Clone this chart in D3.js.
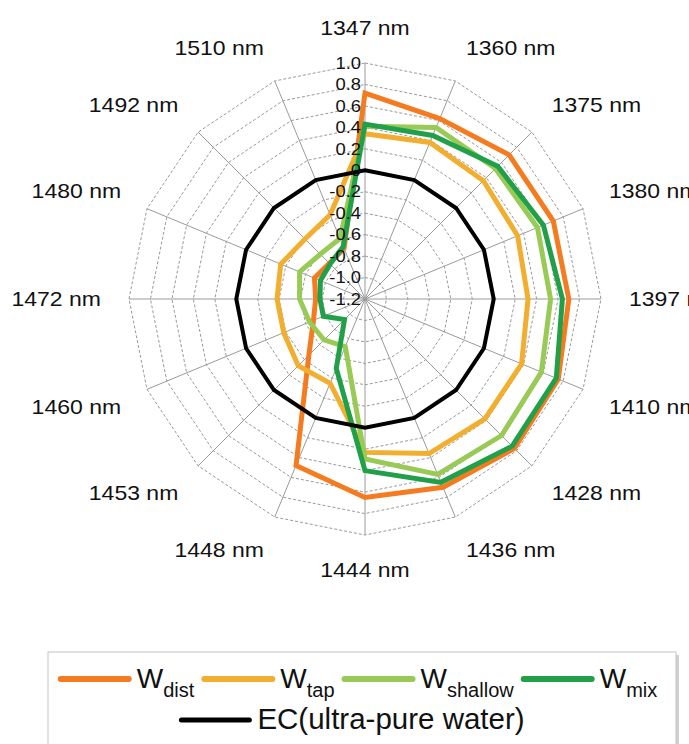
<!DOCTYPE html>
<html>
<head>
<meta charset="utf-8">
<script src="https://cdn.jsdelivr.net/npm/d3@7/dist/d3.min.js"></script>
<style>
  html, body { margin: 0; padding: 0; background: #fff; }
  svg { display: block; }
  text { font-family: "Liberation Sans", Arial, sans-serif; fill: #111; }
</style>
</head>
<body>
<svg id="chart" width="689" height="744"></svg>
<script>
// Axis categories (wavelengths), clockwise from the top
const wavelengths = ["1347 nm", "1360 nm", "1375 nm", "1380 nm", "1397 nm", "1410 nm",
  "1428 nm", "1436 nm", "1444 nm", "1448 nm", "1453 nm", "1460 nm",
  "1472 nm", "1480 nm", "1492 nm", "1510 nm"];

// Radial value ticks
const tickValues = [-1.2, -1.0, -0.8, -0.6, -0.4, -0.2, 0, 0.2, 0.4, 0.6, 0.8, 1.0];

// Series values, one per wavelength
const wDist    = [0.72, 0.62, 0.70, 0.70, 0.70, 0.75, 0.77, 0.70, 0.65, 0.48, -0.46, -0.68, -0.74, -0.69, -0.73, -0.69];
const wTap     = [0.34, 0.38, 0.36, 0.34, 0.32, 0.38, 0.38, 0.36, 0.23, -0.35, -0.32, -0.38, -0.38, -0.35, -0.41, -0.35];
const wShallow = [0.41, 0.53, 0.52, 0.54, 0.53, 0.58, 0.60, 0.57, 0.29, -0.72, -0.66, -0.64, -0.59, -0.54, -0.61, -0.59];
const wMix     = [0.43, 0.45, 0.55, 0.60, 0.64, 0.73, 0.74, 0.65, 0.40, -0.50, -0.93, -0.78, -0.78, -0.75, -0.74, -0.67];
const ecPure   = [0, 0, 0, 0, 0, 0, 0, 0, 0, 0, 0, 0, 0, 0, 0, 0];

const series = [
  { base: "W", sub: "dist",    values: wDist,    color: "#F47B20", width: 5 },
  { base: "W", sub: "tap",     values: wTap,     color: "#F2AE2E", width: 5 },
  { base: "W", sub: "shallow", values: wShallow, color: "#98CA55", width: 5 },
  { base: "W", sub: "mix",     values: wMix,     color: "#21A049", width: 5 },
  { base: "EC(ultra-pure water)", sub: "", values: ecPure, color: "#000000", width: 4 }
];

const svg = d3.select("#chart");
const cx = 365, cy = 299, outerR = 236;

const r = d3.scaleLinear().domain([-1.2, 1.0]).range([0, outerR]);
const angle = d3.scaleLinear().domain([0, wavelengths.length]).range([0, 2 * Math.PI]);

const g = svg.append("g").attr("transform", `translate(${cx},${cy})`);

// Ring gridlines (polygons)
const ringLine = d3.lineRadial()
  .angle((d, i) => angle(i))
  .radius(d => d)
  .curve(d3.curveLinearClosed);

g.append("g").selectAll("path")
  .data(tickValues.slice(1))
  .join("path")
  .attr("d", v => ringLine(wavelengths.map(() => r(v))))
  .attr("fill", "none")
  .attr("stroke", "#9a9a9a")
  .attr("stroke-width", 1)
  .attr("stroke-dasharray", "3,2");

// Spokes
g.append("g").selectAll("line")
  .data(wavelengths)
  .join("line")
  .attr("x1", 0).attr("y1", 0)
  .attr("x2", (d, i) => r(1.0) * Math.sin(angle(i)))
  .attr("y2", (d, i) => -r(1.0) * Math.cos(angle(i)))
  .attr("stroke", "#9a9a9a")
  .attr("stroke-width", 1);

// Series polygons
const seriesLine = d3.lineRadial()
  .angle((d, i) => angle(i))
  .radius(d => r(d))
  .curve(d3.curveLinearClosed);

g.append("g").selectAll("path")
  .data(series)
  .join("path")
  .attr("d", s => seriesLine(s.values))
  .attr("fill", "none")
  .attr("stroke", s => s.color)
  .attr("stroke-width", s => s.width)
  .attr("stroke-linejoin", "miter");

// Value tick labels along the top spoke
const fmt = v => (v === 0 ? "0" : d3.format(".1f")(v).replace("−", "-"));
g.append("g").selectAll("text")
  .data(tickValues)
  .join("text")
  .attr("transform", v => `translate(-4,${-r(v)}) scale(1.15,1)`)
  .attr("text-anchor", "end")
  .attr("dy", "0.36em")
  .style("font-size", "16px")
  .text(fmt);

// Category labels around the chart
const labelR = 264, capH = 14.3;
g.append("g").selectAll("text")
  .data(wavelengths)
  .join("text")
  .each(function (d, i) {
    const a = angle(i), s = Math.sin(a), c = Math.cos(a);
    const ax = labelR * s, ay = -labelR * c;
    const anchor = Math.abs(s) < 1e-6 ? "middle" : (s > 0 ? "start" : "end");
    const by = c > 1e-6 ? ay : (c < -1e-6 ? ay + capH : ay + capH / 2);
    d3.select(this)
      .attr("text-anchor", anchor)
      .attr("transform", `translate(${ax},${by}) scale(1.15,1)`);
  })
  .style("font-size", "20px")
  .text(d => d);

// Legend box
const legend = svg.append("g");
legend.append("rect")
  .attr("x", 51).attr("y", 655).attr("width", 628).attr("height", 110)
  .attr("fill", "#d0d0d0");
legend.append("rect")
  .attr("x", 48).attr("y", 652).attr("width", 628).attr("height", 110)
  .attr("fill", "#fff").attr("stroke", "#c4c4c4").attr("stroke-width", 1);

function legendRow(items, y, centerX, baseSize, subSize) {
  const row = legend.append("g");
  let x = 0;
  items.forEach(s => {
    row.append("line")
      .attr("x1", x + 2).attr("x2", x + 70)
      .attr("y1", y).attr("y2", y)
      .attr("stroke", s.color).attr("stroke-width", s.width + 1)
      .attr("stroke-linecap", "round");
    x += 78;
    const t = row.append("text").attr("x", x).attr("y", y + 9).style("font-size", baseSize + "px");
    t.append("tspan").text(s.base);
    if (s.sub) t.append("tspan").attr("dy", 9).style("font-size", subSize + "px").text(s.sub);
    x += t.node().getComputedTextLength() + 8;
  });
  const total = x - 8;
  row.attr("transform", `translate(${centerX - total / 2},0)`);
}
legendRow(series.slice(0, 4), 679, 358, 28, 20);
legendRow(series.slice(4), 720, 352, 29.5, 20);
</script>
</body>
</html>
